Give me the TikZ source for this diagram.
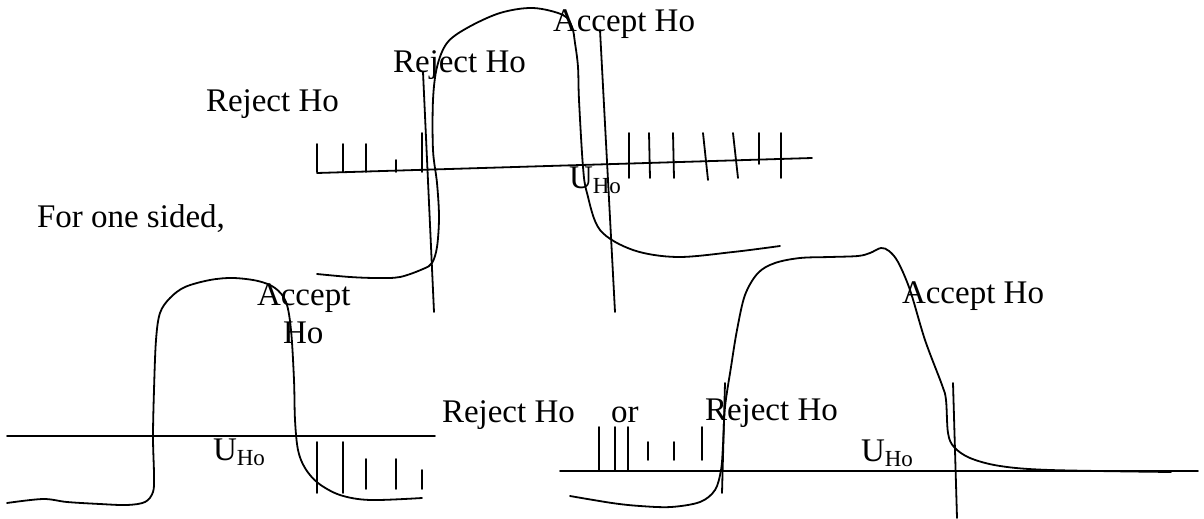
\documentclass[tikz,border=0pt]{standalone}
\usepackage{fontspec}
\setmainfont{Liberation Serif}
\begin{document}
\begin{tikzpicture}[x=1pt,y=-1pt,
  lbl/.style={anchor=base west,inner sep=0pt,outer sep=0pt,font=\fontsize{33}{38}\selectfont},
  ln/.style={line width=1.8pt,line cap=round,line join=round},
  crv/.style={line width=1.8pt,line cap=round,line join=round}]
\useasboundingbox (0,0) rectangle (1204,519);
\newcommand{\uho}{U\raisebox{-5pt}{\fontsize{23}{23}\selectfont Ho}}

% ---------- top (two-sided) ----------
\draw[ln] (317,173) -- (812,158);
\foreach \x/\t in {317/144,343/144,366/144,396/160,422/133}
  \draw[ln] (\x,\t) -- (\x,172);
\draw[ln] (629,133) -- (629,178);
\draw[ln] (649,133) -- (650,178);
\draw[ln] (673,133) -- (674,178);
\draw[ln] (703,133) -- (708,180);
\draw[ln] (733,133) -- (738,178);
\draw[ln] (759,133) -- (759,164);
\draw[ln] (781,133) -- (781,178);
\draw[ln] (423,72) -- (434,312);
\draw[ln] (600,30) -- (615,312);
\draw[crv] plot[smooth,tension=0.55] coordinates {
 (317,274) (350,277) (377,278) (400,277) (423,269) (432,263) (437,247) (439,217)
 (437,183) (433,150) (433,100) (437,67) (447,43) (467,28) (500,13) (533,8)
 (563,15) (572,27) (575,43) (578,67) (579,100) (583,167) (587,193) (600,230)
 (633,250) (677,257) (733,252) (780,246)};

\node[lbl] (acc1) at (553,32) {Accept Ho};
\node[lbl] (rej1) at (393,72) {Reject Ho};
\node[lbl] (rej2) at (206,111) {Reject Ho};
\node[lbl] (uho1) at (569,188) {\uho};
\node[lbl] (onesided) at (37,227) {For one sided,};

% ---------- lower left ----------
\draw[ln] (7,436) -- (435,436);
\draw[ln] (317,442) -- (317,493);
\draw[ln] (343,442) -- (343,493);
\draw[ln] (366,459) -- (366,489);
\draw[ln] (396,459) -- (396,489);
\draw[ln] (422,470) -- (422,489);
\draw[crv] plot[smooth,tension=0.55] coordinates {
 (7,503) (43,499) (67,502) (100,504) (127,505) (145,502) (153,492) (154,475)
 (153,437) (154,390) (156,340) (160,313) (170,298) (185,287) (210,280) (233,278)
 (258,281) (275,288) (286,302) (291,330) (294,380) (295,420) (298,450) (305,468)
 (318,483) (340,495) (370,500) (422,498)};
\node[lbl] (acc2) at (257,305) {Accept};
\node[lbl] (ho2) at (283,343) {Ho};
\node[lbl] (uho2) at (213,460) {\uho};
\node[lbl] (rej3) at (442,422) {Reject Ho};
\node[lbl] (or) at (611,422) {or};

% ---------- lower right ----------
\draw[ln] (560,471) -- (1198,471);
\draw[ln] (599,427) -- (599,471);
\draw[ln] (615,427) -- (615,471);
\draw[ln] (628,427) -- (628,471);
\draw[ln] (648,442) -- (648,460);
\draw[ln] (674,442) -- (674,460);
\draw[ln] (702,427) -- (702,460);
\draw[ln] (725,383) -- (722,493);
\draw[ln] (953,383) -- (957,518);
\draw[crv] plot[smooth,tension=0.55] coordinates {
 (570,496) (612,503) (640,506) (671,507) (700,502) (715,490) (721,470) (723,445)
 (725,407) (731,367) (737,330) (745,295) (758,273) (775,263) (800,258) (830,257)
 (858,256) (870,253) (881,248) (889,251) (898,262) (910,290) (925,340) (942,385)
 (946,400) (948,433) (954,447) (970,458) (1000,466) (1050,470) (1171,472)};
\node[lbl] (rej4) at (705,420) {Reject Ho};
\node[lbl] (acc3) at (902,303) {Accept Ho};
\node[lbl] (uho3) at (861,461) {\uho};
\end{tikzpicture}
\end{document}
